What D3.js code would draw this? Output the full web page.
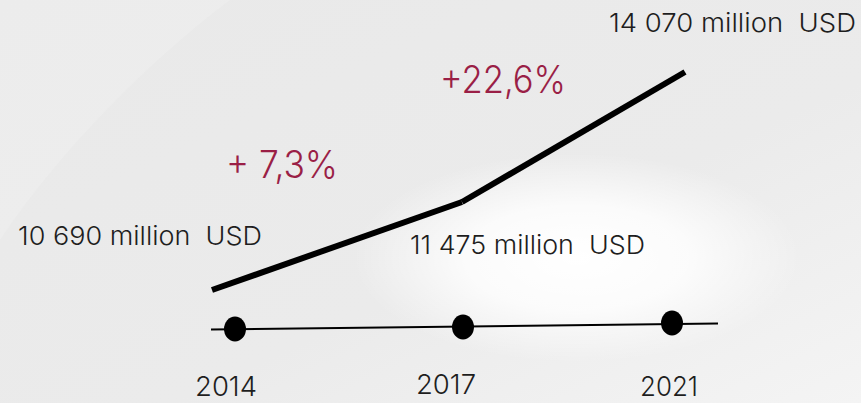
<!DOCTYPE html>
<html>
<head>
<meta charset="utf-8">
<script src="https://cdn.jsdelivr.net/npm/d3@7"></script>
<style>
  html, body { margin: 0; padding: 0; background: #ebebeb; }
  svg { display: block; }
  text { font-family: "Inter", "Lato", sans-serif; font-weight: 300; white-space: pre; }
</style>
</head>
<body>
<script>
// values
const years = [2014, 2017, 2021];
const revenue = [10690, 11475, 14070];
const valueLabels = ["10 690 million  USD", "11 475 million  USD", "14 070 million  USD"];
const growthLabels = ["+ 7,3%", "+22,6%"];

const width = 861;
const height = 403;

const svg = d3.select("body").append("svg").attr("width", width).attr("height", height);

// background: soft grey with white glow
const defs = svg.append("defs");
const glow = defs.append("radialGradient").attr("id", "glow")
  .attr("cx", 0.67).attr("cy", 0.64).attr("r", 0.26);
glow.append("stop").attr("offset", "0%").attr("stop-color", "#ffffff").attr("stop-opacity", 1);
glow.append("stop").attr("offset", "50%").attr("stop-color", "#ffffff").attr("stop-opacity", 0.8);
glow.append("stop").attr("offset", "100%").attr("stop-color", "#ffffff").attr("stop-opacity", 0);
const base = defs.append("linearGradient").attr("id", "base")
  .attr("x1", 0).attr("y1", 0).attr("x2", 1).attr("y2", 1);
base.append("stop").attr("offset", "0%").attr("stop-color", "#e9e9e9");
base.append("stop").attr("offset", "60%").attr("stop-color", "#ebebeb");
base.append("stop").attr("offset", "100%").attr("stop-color", "#f4f4f4");

svg.append("rect").attr("width", width).attr("height", height).attr("fill", "url(#base)");
svg.append("rect").attr("width", width).attr("height", height).attr("fill", "url(#glow)");
svg.append("path")
  .attr("d", "M0,403 L0,240 C60,150 150,60 230,0 L0,0 Z")
  .attr("fill", "#efefef").attr("opacity", 0.5);

// scales (the picture is not proportional, so piecewise domains)
const x = d3.scaleLinear().domain(revenue).range([212, 462, 685]);
const y = d3.scaleLinear().domain(revenue).range([290, 202, 72]);
const tx = d3.scaleLinear().domain(years).range([235, 463, 672]);
const ty = d3.scaleLinear().domain(years).range([329, 327, 323]);

// growth line, drawn as separate segments
svg.selectAll(".seg")
  .data(d3.pairs(revenue))
  .enter()
  .append("line")
  .attr("class", "seg")
  .attr("x1", (d) => x(d[0]))
  .attr("y1", (d) => y(d[0]))
  .attr("x2", (d) => x(d[1]))
  .attr("y2", (d) => y(d[1]))
  .attr("stroke", "#000")
  .attr("stroke-width", 6);

// timeline
svg.append("line")
  .attr("x1", tx(2014) - 24).attr("y1", ty(2014) + 0.5)
  .attr("x2", tx(2021) + 46).attr("y2", ty(2021) + 0.5)
  .attr("stroke", "#000").attr("stroke-width", 2);

svg.selectAll(".dot")
  .data(years)
  .enter()
  .append("ellipse")
  .attr("class", "dot")
  .attr("cx", (d) => tx(d))
  .attr("cy", (d) => ty(d))
  .attr("rx", 11)
  .attr("ry", 12.5)
  .attr("fill", "#000");

// year labels
const yearPos = [[226, 396, 62], [446, 394, 60], [669, 396, 58]];
svg.selectAll(".year")
  .data(years)
  .enter()
  .append("text")
  .attr("class", "year")
  .attr("x", (d, i) => yearPos[i][0] - yearPos[i][2] / 2)
  .attr("y", (d, i) => yearPos[i][1])
  .attr("font-size", 27)
  .attr("textLength", (d, i) => yearPos[i][2])
  .attr("lengthAdjust", "spacingAndGlyphs")
  .attr("fill", "#1e1e1e")
  .text((d) => d);

// value labels
const valuePos = [[18, 245, 244], [410, 254, 235], [609, 32, 247]];
svg.selectAll(".value")
  .data(valueLabels)
  .enter()
  .append("text")
  .attr("class", "value")
  .attr("x", (d, i) => valuePos[i][0])
  .attr("y", (d, i) => valuePos[i][1])
  .attr("font-size", 26)
  .attr("textLength", (d, i) => valuePos[i][2])
  .attr("lengthAdjust", "spacingAndGlyphs")
  .attr("fill", "#1e1e1e")
  .text((d) => d);

// growth labels
const growthPos = [[226, 178, 112], [440, 93, 126]];
svg.selectAll(".growth")
  .data(growthLabels)
  .enter()
  .append("text")
  .attr("class", "growth")
  .attr("x", (d, i) => growthPos[i][0])
  .attr("y", (d, i) => growthPos[i][1])
  .attr("font-size", 38)
  .attr("textLength", (d, i) => growthPos[i][2])
  .attr("lengthAdjust", "spacingAndGlyphs")
  .attr("fill", "#9a1f46")
  .text((d) => d);
</script>
</body>
</html>
